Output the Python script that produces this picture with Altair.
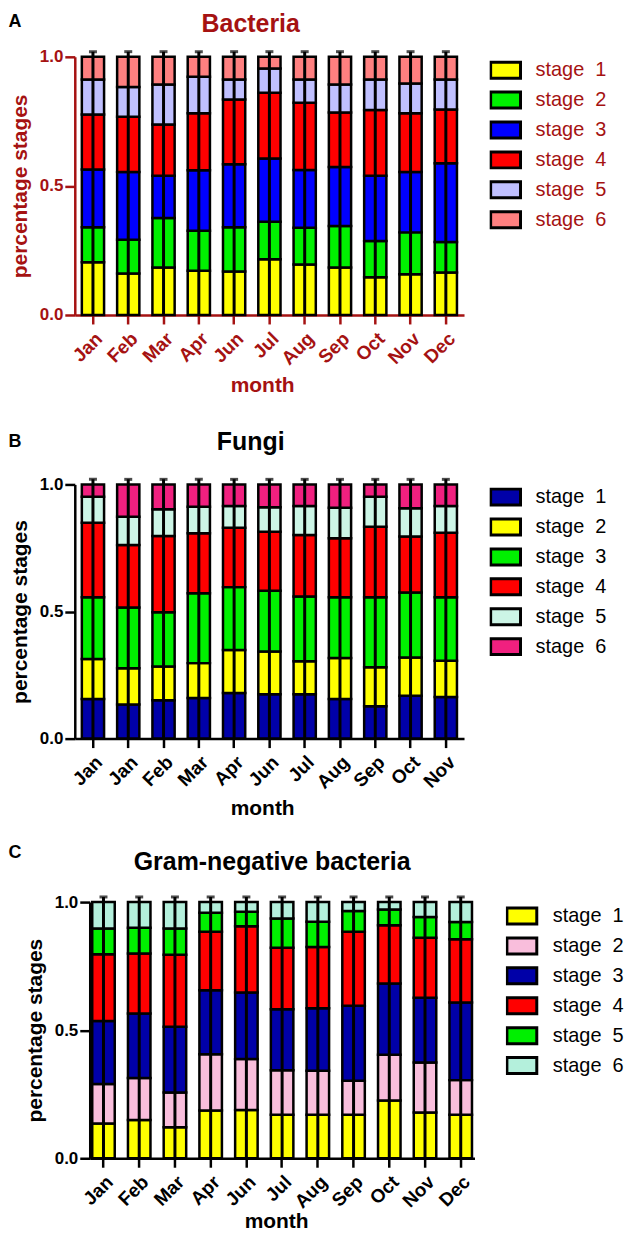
import json
import altair as alt
import pandas as pd

STAGES = ["stage 1", "stage 2", "stage 3", "stage 4", "stage 5", "stage 6"]

MONTHS_A = ["Jan", "Feb", "Mar", "Apr", "Jun", "Jul", "Aug", "Sep", "Oct", "Nov", "Dec"]
MONTHS_B = ["Jan", "Jan", "Feb", "Mar", "Apr", "Jun", "Jul", "Aug", "Sep", "Oct", "Nov"]
MONTHS_C = ["Jan", "Feb", "Mar", "Apr", "Jun", "Jul", "Aug", "Sep", "Oct", "Nov", "Dec"]

# fraction of each stage per month (rows = stage 1..6)
BACTERIA = [
    [0.204, 0.161, 0.184, 0.171, 0.168, 0.216, 0.196, 0.184, 0.146, 0.158, 0.165],
    [0.136, 0.130, 0.192, 0.155, 0.172, 0.145, 0.142, 0.161, 0.141, 0.162, 0.118],
    [0.224, 0.263, 0.163, 0.235, 0.244, 0.245, 0.224, 0.228, 0.252, 0.234, 0.305],
    [0.213, 0.214, 0.199, 0.220, 0.251, 0.255, 0.260, 0.211, 0.255, 0.227, 0.208],
    [0.135, 0.115, 0.155, 0.142, 0.077, 0.094, 0.090, 0.109, 0.118, 0.116, 0.116],
    [0.088, 0.117, 0.107, 0.077, 0.088, 0.045, 0.088, 0.107, 0.088, 0.103, 0.088],
]
FUNGI = [
    [0.156, 0.134, 0.151, 0.160, 0.179, 0.175, 0.175, 0.156, 0.127, 0.169, 0.164],
    [0.157, 0.143, 0.133, 0.137, 0.170, 0.168, 0.129, 0.161, 0.154, 0.150, 0.142],
    [0.243, 0.239, 0.213, 0.275, 0.247, 0.239, 0.255, 0.239, 0.275, 0.256, 0.250],
    [0.293, 0.246, 0.300, 0.236, 0.234, 0.232, 0.242, 0.232, 0.278, 0.220, 0.254],
    [0.103, 0.111, 0.105, 0.104, 0.085, 0.096, 0.114, 0.120, 0.118, 0.111, 0.105],
    [0.048, 0.127, 0.098, 0.088, 0.085, 0.090, 0.085, 0.092, 0.048, 0.094, 0.085],
]
GRAM_NEG = [
    [0.136, 0.149, 0.121, 0.186, 0.188, 0.170, 0.170, 0.170, 0.225, 0.179, 0.170],
    [0.154, 0.164, 0.136, 0.220, 0.199, 0.174, 0.172, 0.133, 0.179, 0.195, 0.135],
    [0.246, 0.252, 0.256, 0.250, 0.260, 0.238, 0.244, 0.292, 0.278, 0.253, 0.303],
    [0.260, 0.234, 0.281, 0.228, 0.259, 0.240, 0.239, 0.289, 0.228, 0.234, 0.247],
    [0.101, 0.101, 0.103, 0.074, 0.056, 0.114, 0.098, 0.081, 0.061, 0.081, 0.067],
    [0.103, 0.100, 0.103, 0.042, 0.038, 0.064, 0.077, 0.035, 0.029, 0.058, 0.078],
]

COLORS_A = ["#FFFF00", "#00F000", "#0000FF", "#FF0000", "#C0C0FF", "#FF8080"]
COLORS_B = ["#0000A8", "#FFFF00", "#00F000", "#FF0000", "#CCF5E6", "#F0207F"]
COLORS_C = ["#FFFF00", "#F9BEDC", "#0000A8", "#FF0000", "#00F000", "#B4F0DC"]

ERR_LOW = 0.0
ERR_HIGH = 1.02

DARK_RED = "#A51212"
FONT = "Liberation Sans"
NBSP = "\u00a0"


def panel(months, values, colors, title, letter, tc, g):
    rows = []
    for si, (stage, vals) in enumerate(zip(STAGES, values)):
        for mi, (m, v) in enumerate(zip(months, vals)):
            rows.append(dict(pos=mi, month=m, stage=stage, si=si, value=v))
    df = pd.DataFrame(rows)
    mdf = pd.DataFrame({"pos": list(range(len(months))), "month": months})

    xscale = alt.Scale(paddingInner=g["pi"], paddingOuter=g["po"], range=[g["x0"], g["w"]])
    yscale = alt.Scale(domain=[0, 1], nice=False, zero=True)

    x_axis = alt.Axis(
        title="month", labelExpr=json.dumps(months) + "[datum.value]",
        labelAngle=-45, labelFont=FONT, labelFontWeight="bold", labelFontSize=19,
        labelColor=tc, labelPadding=5, labelOverlap=False,
        domainColor=tc, domainWidth=2.5, tickColor=tc, tickWidth=2.5, tickSize=9,
        titleFont=FONT, titleFontWeight="bold", titleFontSize=21, titleColor=tc,
        titleX=g["mtx"], titleY=g["mty"], titleBaseline="alphabetic", titleAlign="center",
        grid=False,
    )
    y_axis = alt.Axis(
        title="percentage stages", values=[0, 0.5, 1], format=".1f",
        labelFont=FONT, labelFontWeight="bold", labelFontSize=17, labelColor=tc,
        labelPadding=2, domainColor=tc, domainWidth=2.5, tickColor=tc, tickWidth=2.5,
        tickSize=10, titleFont=FONT, titleFontWeight="bold", titleFontSize=21,
        titleColor=tc, titlePadding=9, grid=False, offset=-g["x0"],
    )
    legend = alt.Legend(
        title=None, orient="none", legendX=g["lx"], legendY=g["ly"],
        symbolType="M-1.034,-0.552H1.034V0.552H-1.034Z", symbolSize=841,
        symbolStrokeColor="black", symbolStrokeWidth=3, symbolOpacity=1,
        labelFont=FONT, labelFontSize=20, labelColor=tc, labelOffset=g["lo"],
        rowPadding=0, clipHeight=29.5,
        labelExpr="replace(datum.label, ' ', '" + NBSP + NBSP + "')",
    )

    spacer = alt.Chart(pd.DataFrame({"s": [0]})).mark_rule(color="white", strokeWidth=1).encode(
        x=alt.value(g["left"]), y=alt.value(g["top"]), y2=alt.value(g["bottom"])
    )
    bars = alt.Chart(df).mark_bar(stroke="black", strokeWidth=2.5).encode(
        x=alt.X("pos:O", scale=xscale, axis=x_axis),
        y=alt.Y("value:Q", stack="zero", scale=yscale, axis=y_axis),
        color=alt.Color("stage:N", scale=alt.Scale(domain=STAGES, range=colors), legend=legend),
        order=alt.Order("si:Q", sort="ascending"),
    )
    err = alt.Chart(mdf).mark_rule(color="black", strokeWidth=3).encode(
        x=alt.X("pos:O"), y=alt.datum(ERR_LOW), y2=alt.datum(ERR_HIGH)
    )
    cap = alt.Chart(mdf).mark_tick(orient="horizontal", size=8, thickness=3, color="black").encode(
        x=alt.X("pos:O"), y=alt.datum(ERR_HIGH)
    )
    ttl = alt.Chart(pd.DataFrame({"t": [title]})).mark_text(
        font=FONT, fontWeight="bold", fontSize=25, color=tc, align="center", baseline="alphabetic"
    ).encode(text="t:N", x=alt.value(g["tx"]), y=alt.value(g["ty"]))
    let = alt.Chart(pd.DataFrame({"t": [letter]})).mark_text(
        font=FONT, fontWeight="bold", fontSize=18, color="black", align="left", baseline="alphabetic"
    ).encode(text="t:N", x=alt.value(g["left"]), y=alt.value(g["ly_letter"]))

    return alt.layer(spacer, bars, err, cap, ttl, let).properties(width=g["w"], height=g["h"])


GA = dict(x0=0, pi=0.37, po=0.2, w=390.5, h=259, left=-66.5, top=-46.3, bottom=362.7,
          mtx=188, mty=77, lx=416.2, ly=-1.35, lo=14, tx=176.5, ty=-24.5, ly_letter=-30.3)
GB = dict(x0=0, pi=0.37, po=0.2, w=390.5, h=255, left=-66.5, top=-64.3, bottom=345.7,
          mtx=188, mty=76, lx=416.2, ly=-2.05, lo=14, tx=176.5, ty=-34.3, ly_letter=-37.3)
GC = dict(x0=15, pi=0.37, po=0.07, w=401, h=257, left=-66.5, top=-71, bottom=326,
          mtx=202, mty=69, lx=432.5, ly=-0.75, lo=15, tx=198, ty=-32, ly_letter=-44)

pa = panel(MONTHS_A, BACTERIA, COLORS_A, "Bacteria", "A", DARK_RED, GA)
pb = panel(MONTHS_B, FUNGI, COLORS_B, "Fungi", "B", "black", GB)
pc = panel(MONTHS_C, GRAM_NEG, COLORS_C, "Gram-negative bacteria", "C", "black", GC)

chart = alt.concat(pa, pb, pc, columns=1, spacing=0).resolve_scale(
    x="independent", y="independent", color="independent"
).resolve_legend(color="independent").properties(padding=0).configure_view(strokeWidth=0)

chart.save("out.html", embed_options={"renderer": "svg", "actions": False})
